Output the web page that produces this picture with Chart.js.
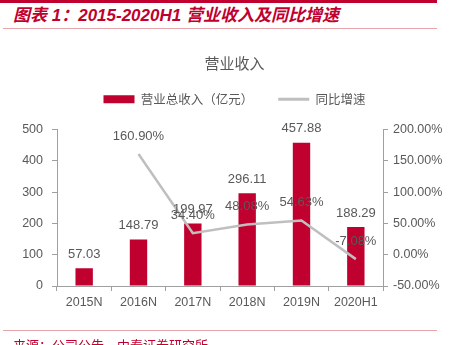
<!DOCTYPE html>
<html><head><meta charset="utf-8">
<script src="https://cdn.jsdelivr.net/npm/chart.js@4"></script>
<style>
html,body{margin:0;padding:0;background:#fff;}
#wrap{position:relative;width:456px;height:345px;overflow:hidden;background:#fff;}
canvas{position:absolute;left:0;top:0;}
.hd{position:absolute;white-space:nowrap;}
</style></head><body>
<div id="wrap">
<div class="hd" style="left:0;top:0;width:437px;height:3px;background:#C0002E"></div>
<div class="hd" style="left:13px;top:6px;font:italic bold 17px 'Liberation Sans','Noto Sans CJK SC';color:#C0002E;line-height:20px;">图表 1：2015-2020H1 营业收入及同比增速</div>
<div class="hd" style="left:3px;top:28px;width:434px;height:1px;background:#E9A5AC"></div>
<canvas id="c" width="456" height="345"></canvas>
<div class="hd" style="left:3px;top:330px;width:434px;height:1px;background:#E9A5AC"></div>
<div class="hd" style="left:13px;top:337px;font:13px 'Noto Sans CJK SC';color:#C0002E;line-height:16px;">来源：公司公告，中泰证券研究所</div>
</div>
<script>
const categories = ['2015N','2016N','2017N','2018N','2019N','2020H1'];
const revenue = [57.03, 148.79, 199.97, 296.11, 457.88, 188.29];
const growth = [null, 160.90, 34.40, 48.08, 54.63, -7.08];
const chartTitle = '营业收入';
const revenueLabel = '营业总收入（亿元）';
const growthLabel = '同比增速';

const GRAY = '#595959';
const AXIS = '#A0A0A0';
const RED = '#C0002E';
const LINE = '#BFBFBF';

const valueLabels = {
  id: 'valueLabels',
  afterDatasetsDraw(chart) {
    const ctx = chart.ctx;
    ctx.save();
    ctx.font = '13px "Liberation Sans"';
    ctx.fillStyle = GRAY;
    ctx.textAlign = 'center';
    ctx.textBaseline = 'middle';
    chart.data.datasets.forEach((ds, i) => {
      const meta = chart.getDatasetMeta(i);
      meta.data.forEach((el, j) => {
        const v = ds.data[j];
        if (v == null) return;
        const isLine = ds.type === 'line';
        const txt = isLine ? v.toFixed(2) + '%' : v.toFixed(2);
        ctx.fillText(txt, el.x, el.y - (isLine ? 18 : 14));
      });
    });
    ctx.restore();
  }
};

const legendGap = {
  id: 'legendGap',
  afterInit(chart) {
    const lg = chart.legend;
    if (!lg) return;
    const orig = lg.fit;
    lg.fit = function() { orig.call(this); this.height += 14; };
  }
};

Chart.defaults.font.family = '"Liberation Sans", "Noto Sans CJK SC"';
Chart.defaults.color = GRAY;

new Chart(document.getElementById('c'), {
  data: {
    labels: categories,
    datasets: [
      {
        type: 'bar', label: revenueLabel, data: revenue,
        backgroundColor: RED, borderWidth: 0, pointStyle: 'rect',
        yAxisID: 'y', order: 1,
        categoryPercentage: 1, barPercentage: 0.32
      },
      {
        type: 'line', label: growthLabel, data: growth,
        borderColor: LINE, backgroundColor: LINE, borderWidth: 2.5,
        pointRadius: 0, pointHoverRadius: 0, pointStyle: 'line',
        pointBorderColor: LINE, pointBorderWidth: 3,
        yAxisID: 'y1', order: 0, tension: 0
      }
    ]
  },
  options: {
    responsive: false,
    animation: false,
    devicePixelRatio: 1,
    layout: { padding: { left: 13, right: 0, top: 0, bottom: 29 } },
    plugins: {
      title: {
        display: true, text: chartTitle, color: GRAY,
        font: { family: '"Noto Sans CJK SC"', size: 15, weight: 'normal', lineHeight: 1.2 },
        padding: { top: 54, bottom: -4 }
      },
      legend: {
        display: true, position: 'top',
        labels: {
          usePointStyle: true, pointStyleWidth: 31, boxHeight: 8,
          padding: 25, color: GRAY,
          font: { family: '"Noto Sans CJK SC"', size: 12.5 },
          sort: (a, b) => a.datasetIndex - b.datasetIndex
        }
      },
      tooltip: { enabled: false }
    },
    scales: {
      x: {
        type: 'category',
        grid: { display: true, drawOnChartArea: false, drawTicks: true, tickLength: 5, color: AXIS, offset: true },
        border: { display: true, color: AXIS, width: 1 },
        ticks: { color: GRAY, font: { size: 12.5 }, padding: 4, maxRotation: 0, autoSkip: false },
        afterFit(s) { s.height = 30; }
      },
      y: {
        type: 'linear', position: 'left', min: 0, max: 500,
        grid: { display: true, drawOnChartArea: false, drawTicks: true, tickLength: 5, color: AXIS },
        border: { display: true, color: AXIS, width: 1 },
        ticks: { stepSize: 100, color: GRAY, font: { size: 12.5 }, padding: 9 },
        afterFit(s) { s.width = 44; }
      },
      y1: {
        type: 'linear', position: 'right', min: -50, max: 200,
        grid: { display: true, drawOnChartArea: false, drawTicks: true, tickLength: 5, color: AXIS },
        border: { display: true, color: AXIS, width: 1 },
        ticks: { stepSize: 50, color: GRAY, font: { size: 12.5 }, padding: 5,
          callback: v => v.toFixed(2) + '%' },
        afterFit(s) { s.width = 73; }
      }
    }
  },
  plugins: [valueLabels, legendGap]
});
</script>
</body></html>
